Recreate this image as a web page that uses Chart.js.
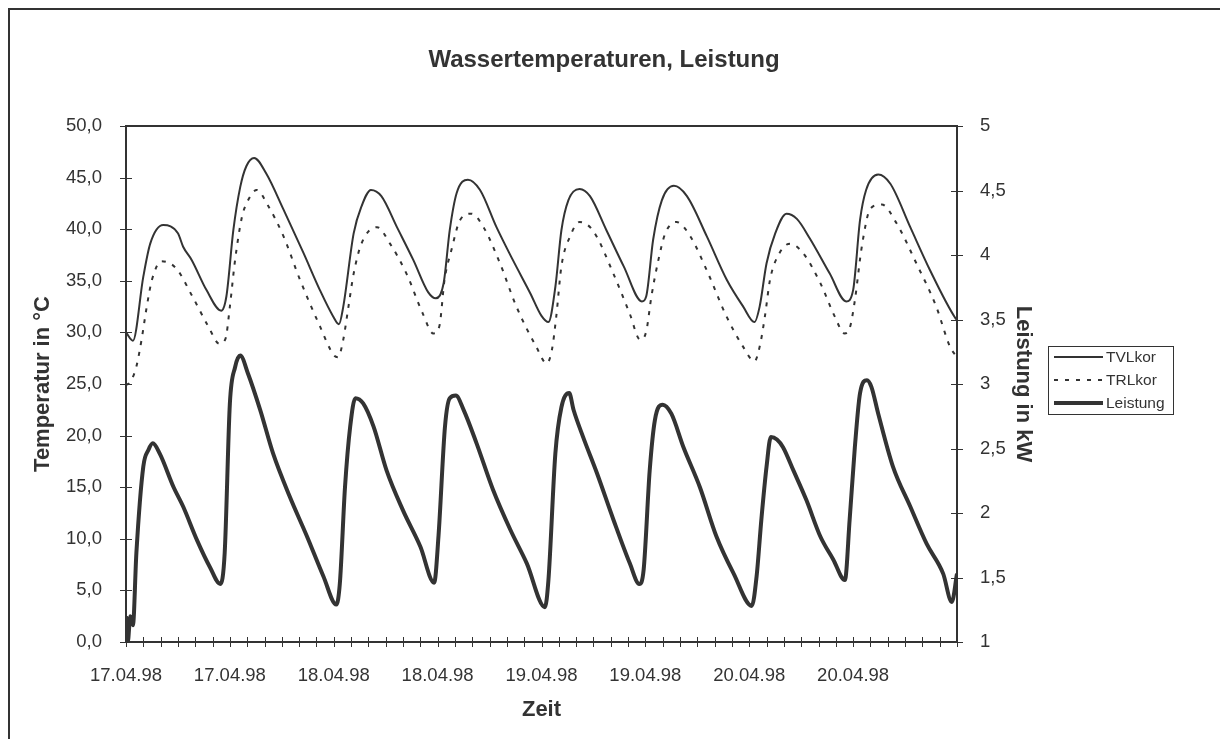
<!DOCTYPE html>
<html>
<head>
<meta charset="utf-8">
<title>Wassertemperaturen, Leistung</title>
<script src="https://cdn.jsdelivr.net/npm/chart.js@4.4.1/dist/chart.umd.min.js"></script>
<style>
  html, body { margin: 0; padding: 0; background: #fff; overflow: hidden; }
  #frame { position: absolute; left: 8px; top: 8px; width: 1400px; height: 900px; border: 2px solid #333; box-sizing: border-box; }
  #priceChart { position: absolute; left: 0; top: 0; }
</style>
</head>
<body>
<div id="frame"></div>
<canvas id="priceChart" width="1220" height="739"></canvas>
<script>
// Achsenbeschriftung: alle 12 Stunden ein Datum, Achse läuft über 96 Stunden
const dateLabels = ["17.04.98", "17.04.98", "18.04.98", "18.04.98", "19.04.98", "19.04.98", "20.04.98", "20.04.98"];

// Vorlauftemperatur (°C), Zeit in Stunden ab Achsenbeginn
const tvlHours = [0, 0.8, 2.0, 2.8, 4.3, 6.0, 6.6, 7.6, 9.3, 11.0, 11.6, 12.4, 13.2, 13.9, 14.8, 16.2, 18.2, 20.5, 22.4, 23.9,
  24.6, 25.1, 26.3, 27.2, 28.3, 29.5, 31.3, 33.2, 34.9, 35.8, 36.7, 37.4, 38.2, 39.5, 40.9, 42.8, 44.7, 46.7, 48.0,
  48.8, 49.6, 50.3, 51.1, 52.4, 53.6, 55.5, 57.5, 59.6, 60.1, 60.9, 61.9, 63.3, 64.8, 67.1, 69.4, 71.3,
  72.6, 73.2, 74.0, 75.0, 76.3, 77.5, 79.0, 81.3, 83.2, 84.0, 84.8, 85.5, 86.9, 88.3, 90.6, 92.9, 95.8, 96.0];
const tvlValues = [30.0, 29.2, 35.4, 38.6, 40.4, 39.6, 38.3, 37.0, 34.1, 32.1, 33.5, 39.9, 44.1, 46.1, 46.9, 45.4, 41.9, 37.7, 34.1, 31.6,
  30.8, 32.5, 39.6, 42.2, 43.8, 43.2, 40.2, 37.0, 33.9, 33.3, 34.8, 39.9, 43.5, 44.8, 43.8, 40.2, 37.0, 33.8, 31.6,
  31.0, 34.4, 39.9, 42.8, 43.9, 43.2, 39.9, 36.4, 33.0, 33.5, 39.0, 42.8, 44.2, 43.2, 39.3, 35.1, 32.5,
  31.0, 32.5, 36.7, 39.6, 41.5, 41.0, 39.1, 35.7, 33.0, 34.1, 40.9, 43.8, 45.3, 44.4, 40.2, 36.0, 31.4, 31.2];

// Rücklauftemperatur (°C)
const trlHours = [0, 0.5, 1.2, 1.8, 2.4, 3.0, 4.1, 5.8, 7.6, 9.5, 10.8, 11.5, 12.0, 12.6, 13.4, 14.1, 15.1, 16.4, 18.2, 20.1, 22.4, 24.0,
  24.5, 25.1, 25.7, 26.3, 27.2, 29.0, 30.5, 32.4, 34.3, 35.5, 36.2, 36.8, 37.6, 38.6, 39.9, 41.3, 43.2, 45.1, 47.4,
  48.6, 49.2, 49.7, 50.3, 51.3, 52.4, 54.0, 56.3, 58.2, 59.4, 60.1, 60.7, 61.5, 62.3, 63.6, 65.2, 67.1, 69.4, 71.3,
  72.6, 73.2, 73.8, 74.4, 75.5, 76.7, 78.2, 80.2, 81.9, 83.0, 83.6, 84.2, 85.0, 86.0, 87.3, 89.0, 91.3, 93.6, 95.2, 96.0];
const trlValues = [24.9, 25.2, 26.7, 29.3, 32.5, 35.1, 36.9, 36.2, 33.6, 30.6, 28.9, 29.4, 32.5, 37.0, 41.2, 42.8, 43.8, 42.3, 39.3, 35.1, 30.6, 27.8,
  27.6, 29.3, 32.5, 35.7, 38.6, 40.2, 38.6, 35.7, 31.8, 29.9, 30.6, 35.1, 38.0, 40.9, 41.5, 40.2, 36.7, 32.5, 28.6,
  27.0, 28.3, 31.5, 36.4, 39.3, 40.7, 39.8, 35.7, 31.8, 29.3, 30.1, 33.5, 37.0, 39.6, 40.7, 39.3, 36.0, 31.5, 28.6,
  27.2, 28.6, 31.5, 35.1, 37.7, 38.6, 37.7, 34.8, 31.5, 29.9, 30.4, 33.1, 38.3, 42.0, 42.4, 40.6, 36.7, 32.5, 28.6, 27.6];

// Leistung (kW), rechte Achse
const powHours = [0, 0.2, 0.5, 0.8, 1.2, 2.0, 2.6, 3.1, 3.9, 5.5, 6.6, 8.2, 9.7, 10.9, 11.4, 12.0, 12.6, 13.2, 14.1, 15.5, 17.0, 18.9, 20.9, 22.8,
  24.3, 24.7, 25.3, 25.9, 26.5, 27.4, 28.6, 30.1, 32.0, 34.0, 35.6, 36.1, 36.85, 37.4, 38.1, 39.0, 40.5, 42.4, 44.4, 46.3,
  48.4, 48.8, 49.6, 50.3, 51.2, 51.7, 52.8, 54.4, 56.3, 58.2, 59.3, 59.8, 60.5, 61.1, 62.0, 63.0, 64.4, 66.3, 68.2, 70.2,
  72.3, 72.85, 73.4, 74.0, 74.5, 75.2, 75.9, 77.1, 78.6, 80.2, 81.7, 83.05, 83.6, 84.2, 84.8, 85.6, 86.1, 86.9, 88.6, 90.6, 92.5, 94.4, 95.4, 96.0];
const powValues = [1.2, 1.0, 1.2, 1.13, 1.69, 2.36, 2.49, 2.54, 2.46, 2.2, 2.05, 1.79, 1.58, 1.45, 1.69, 2.85, 3.13, 3.22, 3.08, 2.80, 2.46, 2.13, 1.82, 1.51,
  1.29, 1.45, 2.2, 2.67, 2.89, 2.85, 2.67, 2.33, 2.02, 1.74, 1.46, 1.82, 2.67, 2.89, 2.91, 2.80, 2.54, 2.18, 1.87, 1.61,
  1.27, 1.48, 2.46, 2.82, 2.93, 2.80, 2.59, 2.31, 1.95, 1.61, 1.45, 1.56, 2.33, 2.72, 2.84, 2.77, 2.51, 2.20, 1.82, 1.53,
  1.28, 1.51, 1.95, 2.36, 2.59, 2.57, 2.51, 2.33, 2.10, 1.82, 1.64, 1.48, 1.95, 2.51, 2.93, 3.03, 2.98, 2.77, 2.36, 2.05, 1.76, 1.53, 1.31, 1.53];

const ink = '#333';
const fontFamily = '"Liberation Sans", Arial, sans-serif';

const toPoints = (xs, ys) => xs.map((x, i) => ({ x: x, y: ys[i] }));
const komma = v => String(v).replace('.', ',');

// Achsenstriche (durch die Achse), Rahmen des Diagramms und Legende
const rahmen = {
  id: 'rahmen',
  afterDraw(chart) {
    const { ctx, chartArea: a, scales } = chart;
    const line = (x1, y1, x2, y2) => { ctx.beginPath(); ctx.moveTo(x1, y1); ctx.lineTo(x2, y2); ctx.stroke(); };
    ctx.save();
    ctx.strokeStyle = ink;
    ctx.lineWidth = 1;
    scales.x.ticks.forEach(t => { const px = Math.round(scales.x.getPixelForValue(t.value)) + 0.5; line(px, a.bottom - 5, px, a.bottom + 5); });
    scales.y.ticks.forEach(t => { const py = Math.round(scales.y.getPixelForValue(t.value)) + 0.5; line(a.left - 6, py, a.left + 6, py); });
    scales.y1.ticks.forEach(t => { const py = Math.round(scales.y1.getPixelForValue(t.value)) + 0.5; line(a.right - 6, py, a.right + 6, py); });

    ctx.lineWidth = 2;
    ctx.strokeRect(a.left, a.top, a.right - a.left, a.bottom - a.top);

    // Legende
    const lx = 1048, ly = 346, lw = 125, lh = 68;
    ctx.lineWidth = 1;
    ctx.strokeStyle = ink;
    ctx.strokeRect(lx + 0.5, ly + 0.5, lw, lh);
    ctx.font = '15.5px ' + fontFamily;
    ctx.fillStyle = ink;
    ctx.textBaseline = 'middle';
    chart.data.datasets.forEach((ds, i) => {
      const yy = ly + 11 + i * 23;
      ctx.save();
      ctx.strokeStyle = ds.borderColor;
      ctx.lineWidth = ds.borderWidth;
      ctx.setLineDash(ds.borderDash || []);
      line(lx + 6, yy, lx + 55, yy);
      ctx.restore();
      ctx.fillText(ds.label, lx + 58, yy + 1);
    });
    ctx.restore();
  }
};

new Chart(document.getElementById('priceChart').getContext('2d'), {
  type: 'line',
  data: {
    datasets: [
      { label: 'TVLkor', data: toPoints(tvlHours, tvlValues), yAxisID: 'y',
        borderColor: ink, borderWidth: 2, pointRadius: 0, cubicInterpolationMode: 'monotone' },
      { label: 'TRLkor', data: toPoints(trlHours, trlValues), yAxisID: 'y',
        borderColor: ink, borderWidth: 2, borderDash: [4, 7], pointRadius: 0, cubicInterpolationMode: 'monotone' },
      { label: 'Leistung', data: toPoints(powHours, powValues), yAxisID: 'y1',
        borderColor: ink, borderWidth: 4, pointRadius: 0, cubicInterpolationMode: 'monotone' }
    ]
  },
  options: {
    responsive: false,
    animation: false,
    devicePixelRatio: 1,
    layout: { padding: { left: 0, right: 12, top: 0, bottom: 0 } },
    plugins: {
      legend: { display: false },
      tooltip: { enabled: false },
      title: {
        display: true,
        text: 'Wassertemperaturen, Leistung',
        color: ink,
        font: { family: fontFamily, size: 24, weight: 'bold', lineHeight: 1.2 },
        padding: { top: 45.6, bottom: 51.6 }
      }
    },
    scales: {
      x: {
        type: 'linear', min: 0, max: 96,
        grid: { display: false }, border: { display: false },
        ticks: {
          stepSize: 2, autoSkip: false, maxRotation: 0, padding: 15, color: ink,
          font: { family: fontFamily, size: 18.5 },
          callback: v => (v % 12 === 0 && v < 96) ? dateLabels[v / 12] : ''
        },
        title: { display: true, text: 'Zeit', color: ink, padding: { bottom: 16 },
          font: { family: fontFamily, size: 22, weight: 'bold', lineHeight: 1.2 } },
        afterFit: s => { s.height = 97; }
      },
      y: {
        position: 'left', min: 0, max: 50,
        grid: { display: false }, border: { display: false },
        ticks: { stepSize: 5, padding: 16, color: ink, font: { family: fontFamily, size: 18.5 },
          callback: v => v.toFixed(1).replace('.', ',') },
        title: { display: true, text: 'Temperatur in °C', color: ink, padding: { top: 30 },
          font: { family: fontFamily, size: 22, weight: 'bold', lineHeight: 1.2 } },
        afterFit: s => { s.width = 126; }
      },
      y1: {
        position: 'right', min: 1, max: 5,
        grid: { display: false }, border: { display: false },
        ticks: { stepSize: 0.5, padding: 15, color: ink, font: { family: fontFamily, size: 18.5 },
          callback: v => komma(v) },
        title: { display: true, text: 'Leistung in kW', color: ink, padding: { top: 172 },
          font: { family: fontFamily, size: 22, weight: 'bold', lineHeight: 1.2 } },
        afterFit: s => { s.width = 251; }
      }
    }
  },
  plugins: [rahmen]
});
</script>
</body>
</html>
